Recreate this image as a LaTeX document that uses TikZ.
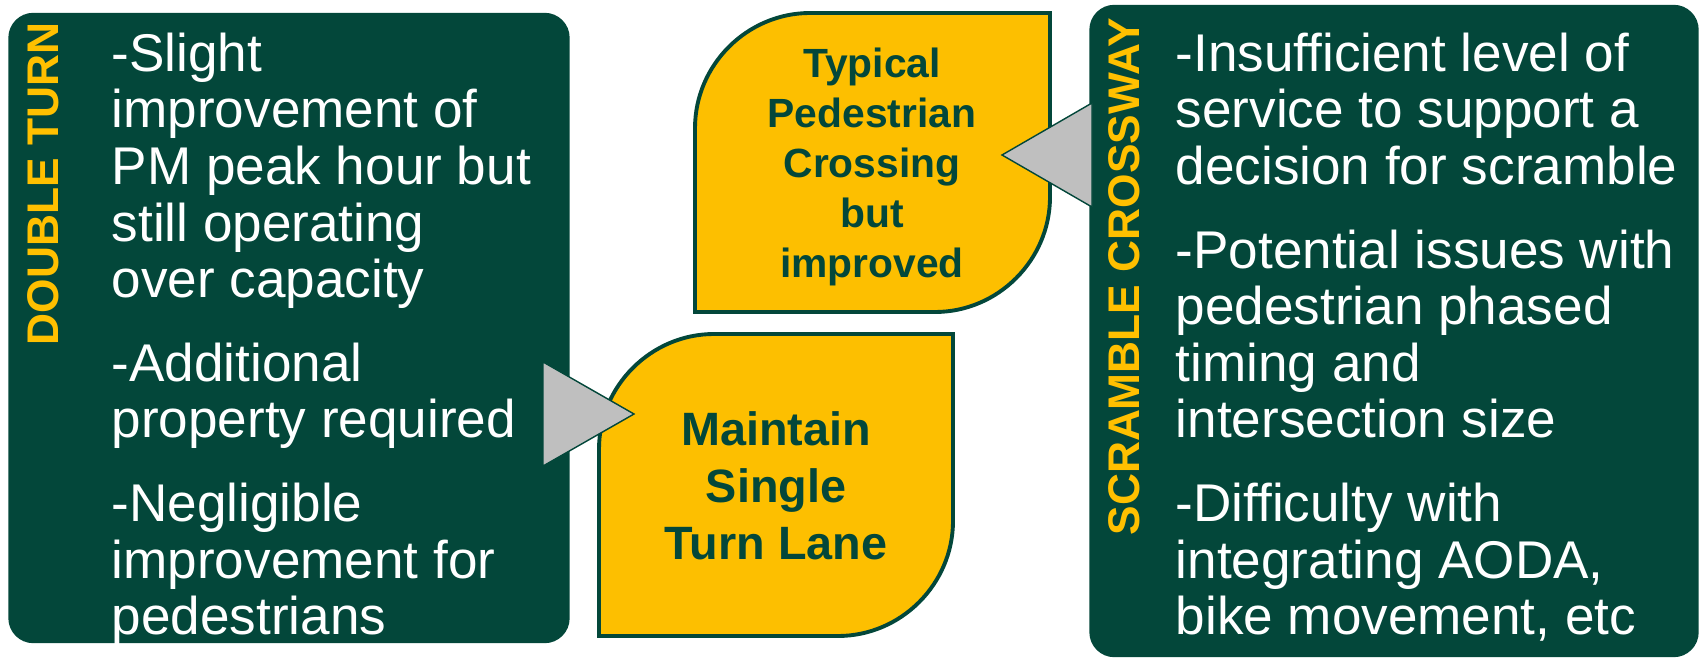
\documentclass[tikz,border=0pt]{standalone}
\usepackage{fontspec}
\setmainfont{Liberation Sans}
\usepackage{tikz}
\usetikzlibrary{positioning}
\definecolor{dkgreen}{HTML}{03473A}
\definecolor{gold}{HTML}{FFC000}
\definecolor{leafgold}{HTML}{FDBF00}
\definecolor{pointergray}{HTML}{BFBFBF}

\begin{document}
\begin{tikzpicture}[x=0.01cm, y=-0.01cm,
    panel/.style={fill=dkgreen, rounded corners=0.25cm, inner sep=0pt},
    leaf/.style={fill=leafgold, draw=dkgreen, line width=1.1pt},
    pointer/.style={fill=pointergray, draw=dkgreen, line width=0.4pt},
    sidelabel/.style={rotate=90, text=gold, font=\fontsize{12.6}{14}\selectfont\bfseries, inner sep=0pt, anchor=base east},
    notes/.style={text=white, align=left, inner sep=0pt, anchor=north west, font=\fontsize{15.1}{16.1}\selectfont},
    leaftext/.style={text=dkgreen, align=center, inner sep=0pt}]
    \useasboundingbox (0,0) rectangle (1704,661);

    % Side panels
    \node[panel, minimum width=5.61cm, minimum height=6.3cm] (dt) at (289,328) {};
    \node[panel, minimum width=6.09cm, minimum height=6.52cm] (sc) at (1394,331) {};

    % Panel titles (vertical)
    \node[sidelabel] (dtLabel) at (58,22) {DOUBLE TURN};
    \node[sidelabel] (scLabel) at (1139,17) {SCRAMBLE CROSSWAY};

    % Panel notes
    \node[notes] (dtNotes) at (111,32) {-Slight\\improvement of\\PM peak hour but\\still operating\\over capacity\\[7.7pt]
        -Additional\\property required\\[7.7pt]
        -Negligible\\improvement for\\pedestrians};
    \node[notes] (scNotes) at (1175,32) {-Insufficient level of\\service to support a\\decision for scramble\\[7.7pt]
        -Potential issues with\\pedestrian phased\\timing and\\intersection size\\[7.7pt]
        -Difficulty with\\integrating AODA,\\bike movement, etc};

    % Outcome leaves
    \draw[leaf] (695,312) -- (695,128) .. controls (695,65) and (747,13) .. (810,13) -- (1050,13) -- (1050,197) .. controls (1050,260) and (998,312) .. (935,312) -- cycle;
    \node[leaftext, font=\fontsize{11.6}{14.2}\selectfont\bfseries] (typ) at (872,167) {Typical\\Pedestrian\\Crossing\\but\\improved};

    \draw[leaf] (599,636) -- (599,449) .. controls (599,386) and (651,334) .. (714,334) -- (953,334) -- (953,521) .. controls (953,584) and (901,636) .. (838,636) -- cycle;
    \node[leaftext, font=\fontsize{13.3}{16.2}\selectfont\bfseries] (mst) at (776,486) {Maintain\\Single\\Turn Lane};

    % Pointers
    \coordinate (dtOut) at (543,414);
    \coordinate (mstIn) at (634,414);
    \draw[pointer] ([yshift=5.2mm]dtOut) -- (mstIn) -- ([yshift=-5.2mm]dtOut) -- cycle;

    \coordinate (scOut) at (1092,155);
    \coordinate (typIn) at (1002,155);
    \draw[pointer] ([yshift=5.2mm]scOut) -- (typIn) -- ([yshift=-5.2mm]scOut) -- cycle;
\end{tikzpicture}
\end{document}
